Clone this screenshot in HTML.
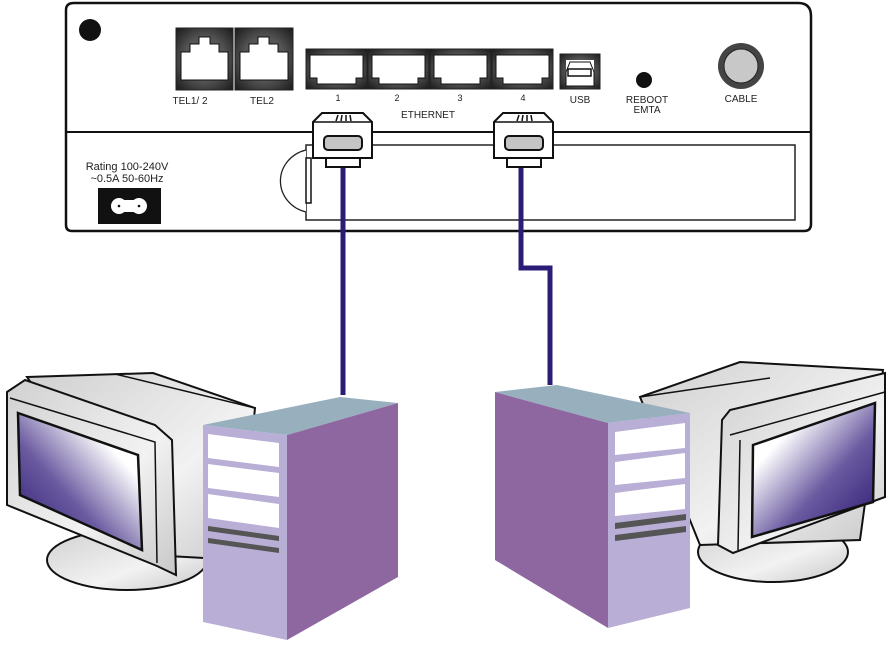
<!DOCTYPE html>
<html><head><meta charset="utf-8"><style>
html,body{margin:0;padding:0;background:#fff;}
svg{display:block;}
text{font-family:"Liberation Sans",sans-serif;fill:#222;}
</style></head><body>
<svg width="894" height="649" viewBox="0 0 894 649" xmlns="http://www.w3.org/2000/svg">
<defs>
<linearGradient id="scrL" x1="0" y1="1" x2="1" y2="0">
<stop offset="0" stop-color="#2a1670"/><stop offset="0.4" stop-color="#6a5aa0"/><stop offset="0.75" stop-color="#ffffff"/></linearGradient>
<linearGradient id="scrR" x1="1" y1="1" x2="0" y2="0">
<stop offset="0" stop-color="#2a1670"/><stop offset="0.4" stop-color="#6a5aa0"/><stop offset="0.75" stop-color="#ffffff"/></linearGradient>
<linearGradient id="gry" x1="0" y1="0" x2="1" y2="1">
<stop offset="0" stop-color="#d0d0d0"/><stop offset="0.6" stop-color="#f2f2f2"/><stop offset="1" stop-color="#c8c8c8"/></linearGradient>
<radialGradient id="jack" cx="0.5" cy="0.5" r="0.7"><stop offset="0.5" stop-color="#555"/><stop offset="1" stop-color="#1a1a1a"/></radialGradient>
</defs>

<path d="M74,3 H798 Q811,3 811,16 V224 Q811,231 804,231 H72 Q66,231 66,225 V10 Q66,3 74,3 Z" fill="#fff" stroke="#111" stroke-width="2.5"/>
<line x1="67" y1="132" x2="810" y2="132" stroke="#111" stroke-width="2"/>
<rect x="306" y="145" width="489" height="75" fill="#fff" stroke="#222" stroke-width="1.5"/>
<path d="M306,150 A34,32 0 0 0 306,212" fill="#fff" stroke="#222" stroke-width="1.3"/>
<rect x="306" y="158" width="5" height="45" fill="#fff" stroke="#111" stroke-width="1.5"/>
<circle cx="90" cy="30" r="11" fill="#111"/>

<g>
<rect x="176" y="28" width="57" height="62" fill="url(#jack)" stroke="#222"/>
<path d="M181,52 H190 V44 H199 V37 H210 V44 H219 V52 H228 V80 H181 Z" fill="#fff" stroke="#111"/>
<rect x="235" y="28" width="58" height="62" fill="url(#jack)" stroke="#222"/>
<path d="M240,52 H249 V44 H258 V37 H269 V44 H278 V52 H288 V80 H240 Z" fill="#fff" stroke="#111"/>
</g>
<g id="eth">
<rect x="306" y="49" width="61" height="40" fill="url(#jack)" stroke="#222"/>
<path d="M310,55 H363 V78 H356 V84 H317 V78 H310 Z" fill="#fff" stroke="#111"/>
</g>
<use href="#eth" x="62"/><use href="#eth" x="124"/><use href="#eth" x="186"/>
<rect x="560" y="54" width="40" height="35" fill="url(#jack)" stroke="#222"/>
<path d="M566,60 H594 V86 H566 Z" fill="#fff"/>
<path d="M566,86 V72 L570,62 H590 L594,72 V86 Z" fill="#fff" stroke="#111"/>
<rect x="568" y="69" width="23" height="7" fill="#fff" stroke="#111" stroke-width="1.5"/>
<circle cx="644" cy="80" r="8" fill="#111"/>
<circle cx="741" cy="66" r="23" fill="#444"/>
<circle cx="741" cy="66" r="17" fill="#c8c8c8" stroke="#222"/>

<text x="190" y="104" font-size="10" text-anchor="middle">TEL1/ 2</text>
<text x="262" y="104" font-size="10" text-anchor="middle">TEL2</text>
<text x="338" y="101" font-size="9" text-anchor="middle">1</text>
<text x="397" y="101" font-size="9" text-anchor="middle">2</text>
<text x="460" y="101" font-size="9" text-anchor="middle">3</text>
<text x="523" y="101" font-size="9" text-anchor="middle">4</text>
<text x="428" y="118" font-size="10" text-anchor="middle">ETHERNET</text>
<text x="580" y="103" font-size="10" text-anchor="middle">USB</text>
<text x="647" y="103" font-size="10" text-anchor="middle">REBOOT</text>
<text x="647" y="113" font-size="10" text-anchor="middle">EMTA</text>
<text x="741" y="102" font-size="10" text-anchor="middle">CABLE</text>
<text x="127" y="170" font-size="11" text-anchor="middle">Rating 100-240V</text>
<text x="127" y="182" font-size="11" text-anchor="middle">~0.5A 50-60Hz</text>
<rect x="98" y="188" width="63" height="36" fill="#111"/>
<circle cx="119" cy="206" r="8" fill="#fff"/><circle cx="139" cy="206" r="8" fill="#fff"/>
<rect x="119" y="200" width="20" height="12" fill="#fff"/>
<circle cx="119" cy="206" r="1.3" fill="#111"/><circle cx="139" cy="206" r="1.3" fill="#111"/>

<polyline points="343,165 343,395" fill="none" stroke="#2b1d77" stroke-width="5"/>
<polyline points="521,165 521,268 550,268 550,385" fill="none" stroke="#2b1d77" stroke-width="5"/>

<g id="plug">
<path d="M313,122 L322,113 H363 L372,122 V158 H313 Z" fill="#fff" stroke="#111" stroke-width="2"/>
<line x1="313" y1="122" x2="372" y2="122" stroke="#111" stroke-width="1.5"/>
<path d="M336,121 L338,115 M341,121 L342,115 M346,121 L346,115 M351,121 L350,115" stroke="#111" stroke-width="1.5"/>
<rect x="324" y="136" width="38" height="14" rx="4" fill="#c4c4c4" stroke="#111" stroke-width="2"/>
<rect x="326" y="158" width="34" height="9" fill="#fff" stroke="#111" stroke-width="2"/>
</g>
<use href="#plug" x="181"/>

<ellipse cx="127" cy="560" rx="80" ry="30" fill="url(#gry)" stroke="#111" stroke-width="2"/>
<path d="M27,377 L153,373 L255,408 L240,560 L150,555 Z" fill="url(#gry)" stroke="#111" stroke-width="2"/>
<path d="M115,374 L255,408" stroke="#111" stroke-width="1.5" fill="none"/>
<path d="M7,392 L25,380 L155,425 L172,440 L176,575 L157,566 L7,505 Z" fill="url(#gry)" stroke="#111" stroke-width="2"/>
<path d="M10,398 L155,442 L157,563" stroke="#111" stroke-width="1.5" fill="none"/>
<path d="M18,413 L138,455 L142,550 L20,495 Z" fill="url(#scrL)" stroke="#111" stroke-width="2.5"/>

<polygon points="203,425 340,397 398,403 287,435" fill="#98b0be"/>
<polygon points="287,435 398,403 398,577 287,640" fill="#8e67a0"/>
<polygon points="203,425 287,435 287,640 203,622" fill="#b8aed6"/>
<polygon points="208,434 279,443 279,467 208,458" fill="#fff"/>
<polygon points="208,464 279,473 279,497 208,488" fill="#fff"/>
<polygon points="208,494 279,504 279,528 208,518" fill="#fff"/>
<polygon points="208,526 279,536 279,541 208,531" fill="#555"/>
<polygon points="208,538 279,548 279,553 208,543" fill="#555"/>

<ellipse cx="773" cy="552" rx="75" ry="30" fill="url(#gry)" stroke="#111" stroke-width="2"/>
<path d="M640,397 L740,362 L883,370 L860,540 L700,545 Z" fill="url(#gry)" stroke="#111" stroke-width="2"/>
<path d="M640,397 L770,378" stroke="#111" stroke-width="1.5" fill="none"/>
<path d="M722,420 L730,410 L885,373 L885,497 L733,553 L718,545 Z" fill="url(#gry)" stroke="#111" stroke-width="2"/>
<path d="M730,435 L885,392 M740,440 L738,550" stroke="#111" stroke-width="1.5" fill="none"/>
<path d="M753,445 L875,403 L873,502 L752,537 Z" fill="url(#scrR)" stroke="#111" stroke-width="2.5"/>

<polygon points="495,392 557,385 690,413 608,423" fill="#98b0be"/>
<polygon points="495,392 608,423 608,628 495,560" fill="#8e67a0"/>
<polygon points="608,423 690,413 690,608 608,628" fill="#b8aed6"/>
<polygon points="615,432 685,423 685,448 615,455" fill="#fff"/>
<polygon points="615,462 685,453 685,478 615,485" fill="#fff"/>
<polygon points="615,493 685,484 685,509 615,516" fill="#fff"/>
<polygon points="615,523 686,514 686,520 615,529" fill="#555"/>
<polygon points="615,535 686,526 686,532 615,541" fill="#555"/>
</svg>
</body></html>
